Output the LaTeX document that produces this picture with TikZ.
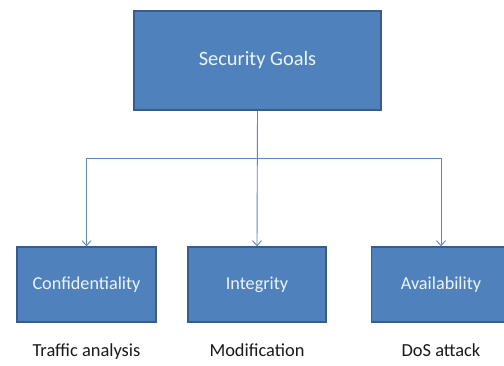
\documentclass[tikz,border=0pt]{standalone}
\usepackage{fontspec}
\setmainfont{Carlito}
\usetikzlibrary{arrows.meta, positioning}

\definecolor{boxfill}{HTML}{4F81BD}
\definecolor{boxline}{HTML}{385D8A}
\definecolor{linkcol}{HTML}{5B87C3}

\tikzset{
  goalbox/.style={rectangle, fill=boxfill, draw=boxline, line width=1.4pt,
                  text=white!90!boxfill, inner sep=0pt},
  link/.style={draw=linkcol, line width=0.9pt},
  threat/.style={font=\fontsize{18.4}{22}\selectfont, text=black!90}
}

\begin{document}
\begin{tikzpicture}[x=1pt, y=-1pt]
  \clip (0,0) rectangle (504,365);
  \fill[white] (0,0) rectangle (504,365);

  % Root and the three goals
  \node[goalbox, minimum width=247pt, minimum height=99pt,
        font=\fontsize{20.4}{24}\selectfont] (goals) at (257.5,60.5) {Security Goals};
  \node[goalbox, minimum width=139pt, minimum height=75pt,
        font=\fontsize{18.2}{22}\selectfont] (conf) at (86.5,284.5) {Confidentiality};
  \node[goalbox, minimum width=138pt, minimum height=75pt,
        font=\fontsize{18.2}{22}\selectfont] (integ) at (257,284.5) {Integrity};
  \node[goalbox, minimum width=139pt, minimum height=75pt,
        font=\fontsize{18.2}{22}\selectfont] (avail) at (441,284.5) {Availability};

  % Attacks under each goal
  \node[threat, below=17pt of conf]  (traffic) {Traffic analysis};
  \node[threat, below=17pt of integ] (modif)   {Modification};
  \node[threat, below=17pt of avail] (dos)     {DoS attack};

  % Connectors
  \coordinate (bus) at (0,158);
  \draw[link] (conf.north |- bus) -- (avail.north |- bus);
  \draw[link, -{Straight Barb[length=5pt, width=9pt]}] (goals.south) -- (integ.north);
  \draw[link, -{Straight Barb[length=5pt, width=9pt]}] (conf.north |- bus) -- (conf.north);
  \draw[link, -{Straight Barb[length=5pt, width=9pt]}] (avail.north |- bus) -- (avail.north);
\end{tikzpicture}
\end{document}
